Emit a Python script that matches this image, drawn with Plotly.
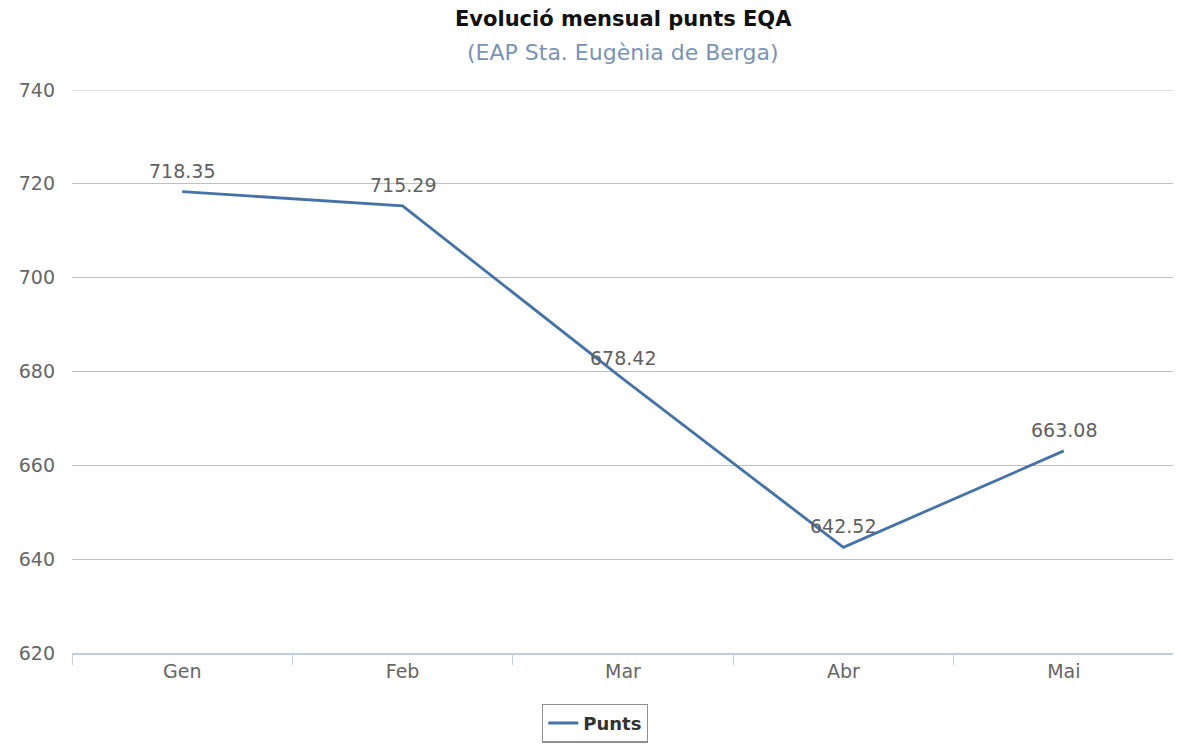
import plotly.graph_objects as go

months = ["Gen", "Feb", "Mar", "Abr", "Mai"]
punts = [718.35, 715.29, 678.42, 642.52, 663.08]
labels = ["718.35", "715.29", "678.42", "642.52", "663.08"]
y_ticks = [620, 640, 660, 680, 700, 720, 740]

FONT = "DejaVu Sans"
W, H = 1181, 749
OFF = 8  # page body margin
PLOT_TOP, PLOT_BOTTOM = 90 - OFF, 653 - OFF
PLOT_LEFT, PLOT_RIGHT = 72 - OFF, 1174 - OFF
GRID = "#C0C0C0"


def paper_y(py):
    return (PLOT_BOTTOM - (py - OFF)) / (PLOT_BOTTOM - PLOT_TOP)


fig = go.Figure()
fig.add_trace(go.Scatter(
    x=months, y=punts, name="Punts",
    mode="lines",
    line=dict(color="#4572A7", width=2.8),
    cliponaxis=False,
))

annotations = [
    dict(x=m, y=v, xref="x", yref="y", text=t, showarrow=False,
         yshift=21, font=dict(family=FONT, size=19, color="#606060"))
    for m, v, t in zip(months, punts, labels)
]
annotations += [
    dict(text="<b>Evolució mensual punts EQA</b>", x=0.5, xref="paper",
         y=paper_y(19), yref="paper", yanchor="middle", showarrow=False,
         font=dict(family=FONT, size=21, color="#111111")),
    dict(text="(EAP Sta. Eugènia de Berga)", x=0.5, xref="paper",
         y=paper_y(52), yref="paper", yanchor="middle", showarrow=False,
         font=dict(family=FONT, size=22, color="#7a93b5")),
]

fig.update_layout(
    width=W, height=H,
    margin=dict(l=PLOT_LEFT, r=W - PLOT_RIGHT, t=PLOT_TOP, b=H - PLOT_BOTTOM),
    paper_bgcolor="white", plot_bgcolor="white",
    font=dict(family=FONT, size=19, color="#666666"),
    showlegend=True,
    legend=dict(
        orientation="h", x=(595 - OFF) / W, xanchor="center", xref="container",
        y=1 - (723 - OFF) / H, yanchor="middle", yref="container",
        bordercolor="#909090", borderwidth=1.3,
        font=dict(family=FONT, size=18, color="#333333", weight="bold"),
        itemwidth=30,
    ),
    annotations=annotations,
    shapes=[dict(type="line", xref="paper", x0=0, x1=1, yref="y",
                 y0=y_ticks[-1], y1=y_ticks[-1], layer="below",
                 line=dict(color=GRID, width=1))],
)

fig.update_xaxes(
    type="category", range=[-0.5, 4.5],
    showline=True, linecolor="#C0D0E0", linewidth=1.5,
    ticks="outside", tickson="boundaries", ticklen=10, tickcolor="#C0D0E0",
    showgrid=False, tickfont=dict(family=FONT, size=19, color="#666666"),
)
fig.update_yaxes(
    range=[620, 740], tickvals=y_ticks, ticktext=[str(v) for v in y_ticks],
    showgrid=True, gridcolor=GRID, gridwidth=1, zeroline=False,
    showline=False, ticks="", ticklabelstandoff=16,
    tickfont=dict(family=FONT, size=19, color="#666666"),
)

fig.write_html("out.html")
